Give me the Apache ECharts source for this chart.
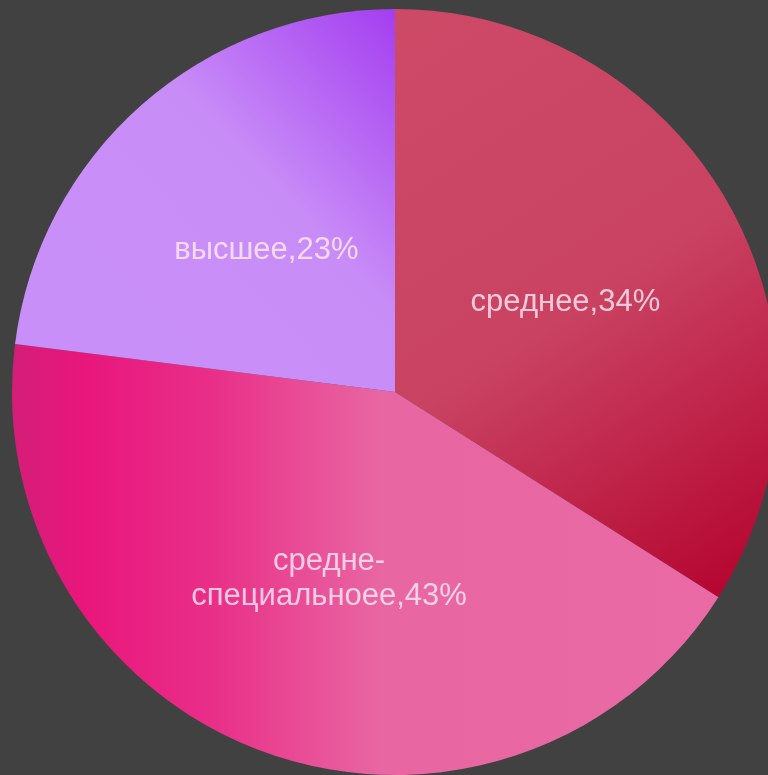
<!DOCTYPE html>
<html>
<head>
<meta charset="utf-8">
<script src="https://cdn.jsdelivr.net/npm/echarts@6/dist/echarts.min.js"></script>
<style>
html,body{margin:0;padding:0;background:#414141;}
#chart{width:768px;height:775px;}
</style>
</head>
<body>
<div id="chart"></div>
<script>
const categories = ['среднее', 'средне-\nспециальноее', 'высшее'];
const shares = [34, 43, 23];

const sliceColors = [
  new echarts.graphic.LinearGradient(0, 0, 1, 1, [
    {offset: 0, color: '#cd4a67'},
    {offset: 0.5, color: '#c94262'},
    {offset: 1, color: '#b3002b'}
  ]),
  new echarts.graphic.LinearGradient(0, 0, 1, 0, [
    {offset: 0, color: '#d41e78'},
    {offset: 0.1, color: '#e8167b'},
    {offset: 0.28, color: '#e92e88'},
    {offset: 0.52, color: '#e866a2'},
    {offset: 1, color: '#e96aa5'}
  ]),
  new echarts.graphic.LinearGradient(1, 0, 0.2, 0.75, [
    {offset: 0, color: '#a43ef0'},
    {offset: 0.5, color: '#c88cf7'},
    {offset: 1, color: '#c98ff8'}
  ])
];

const chart = echarts.init(document.getElementById('chart'));
chart.setOption({
  backgroundColor: '#414141',
  animation: false,
  series: [{
    type: 'pie',
    center: [395, 392],
    radius: 383,
    startAngle: 90,
    clockwise: true,
    label: {
      show: true,
      position: 'inside',
      formatter: p => p.name + ',' + p.value + '%',
      color: 'rgba(255,236,248,0.8)',
      fontFamily: 'Liberation Sans, Arial, sans-serif',
      fontSize: 31,
      lineHeight: 35,
      offset: [0, 4]
    },
    labelLine: {show: false},
    itemStyle: {borderWidth: 0},
    emphasis: {disabled: true},
    data: categories.map((c, i) => ({
      name: c,
      value: shares[i],
      itemStyle: {color: sliceColors[i]}
    }))
  }]
});
</script>
</body>
</html>
